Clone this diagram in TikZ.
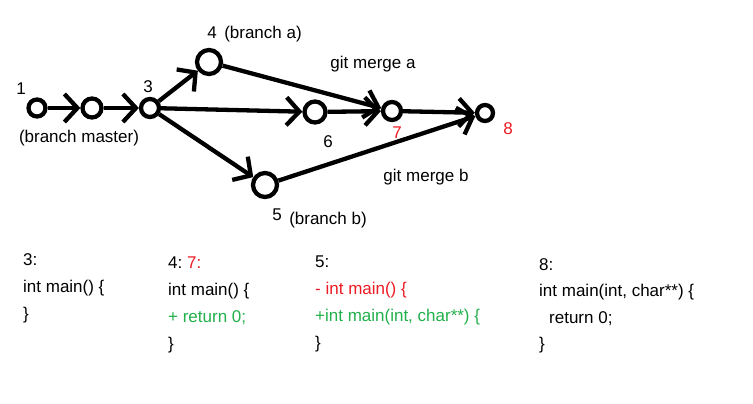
\documentclass[tikz,border=0pt]{standalone}
\usepackage{fontspec}
\setmainfont{Liberation Sans}
\usetikzlibrary{arrows.meta}
\definecolor{gred}{RGB}{237,28,36}
\definecolor{ggreen}{RGB}{34,177,76}
\begin{document}
\begin{tikzpicture}[x=1pt,y=-1pt,
  commit/.style={circle, draw, line width=4.3pt, inner sep=0pt},
  edge/.style={line width=4.3pt, -{Straight Barb[length=13pt,width=28pt]}},
  lbl/.style={font=\fontsize{17}{20}\selectfont, inner sep=0pt},
  code/.style={font=\fontsize{17}{20}\selectfont, inner sep=0pt, anchor=base west}]
\fill[white] (0,0) rectangle (753,404);
\useasboundingbox (0,0) rectangle (753,404);
% commits
\node[commit, minimum size=17pt] (n1) at (37,108) {};
\node[commit, minimum size=19pt] (n2) at (92,108) {};
\node[commit, minimum size=18pt] (n3) at (150,108) {};
\node[commit, minimum size=24pt] (n4) at (209,62) {};
\node[commit, minimum size=24pt] (n5) at (265,185) {};
\node[commit, minimum size=21pt] (n6) at (315,112) {};
\node[commit, minimum size=18pt] (n7) at (392,111) {};
\node[commit, minimum size=16pt] (n8) at (485,113) {};
% connectors
\draw[edge] (n1) -- (n2);
\draw[edge] (n2) -- (n3);
\draw[edge] (n3) -- (n4);
\draw[edge] (n3) -- (n6);
\draw[edge] (n3) -- (n5);
\draw[edge] (n6) -- (n7);
\draw[edge] (n4) -- (n7);
\draw[edge] (n7) -- (n8);
\draw[edge] (n5) -- (n8);
% graph labels
\node[lbl] (l1) at (21,89) {1};
\node[lbl] (lm) at (79,138) {(branch master)};
\node[lbl] (l3) at (148,87) {3};
\node[lbl] (l4) at (212,33) {4};
\node[lbl] (la) at (263,34) {(branch a)};
\node[lbl] (gma) at (373,64) {git merge a};
\node[lbl] (l6) at (328,142) {6};
\node[lbl, text=gred] (l7) at (397,133) {7};
\node[lbl, text=gred] (l8) at (508,129) {8};
\node[lbl] (gmb) at (426,177) {git merge b};
\node[lbl] (l5) at (277,215) {5};
\node[lbl] (lb) at (328,220) {(branch b)};
% code column 3
\node[code] (c3a) at (23,265) {3:};
\node[code] (c3b) at (23,292) {int main() \{};
\node[code] (c3c) at (23,319) {\}};
% code column 4 / 7
\node[code] (c4a) at (168,268) {4:};
\node[code, text=gred] (c4r) at (187,268) {7:};
\node[code] (c4b) at (168,295) {int main() \{};
\node[code, text=ggreen] (c4c) at (168,322) {+ return 0;};
\node[code] (c4d) at (168,349) {\}};
% code column 5
\node[code] (c5a) at (315,267) {5:};
\node[code, text=gred] (c5b) at (315,294) {- int main() \{};
\node[code, text=ggreen] (c5c) at (315,321) {+int main(int, char**) \{};
\node[code] (c5d) at (315,348) {\}};
% code column 8
\node[code] (c8a) at (539,270) {8:};
\node[code] (c8b) at (539,296) {int main(int, char**) \{};
\node[code] (c8c) at (549,323) {return 0;};
\node[code] (c8d) at (539,349) {\}};
\end{tikzpicture}
\end{document}
